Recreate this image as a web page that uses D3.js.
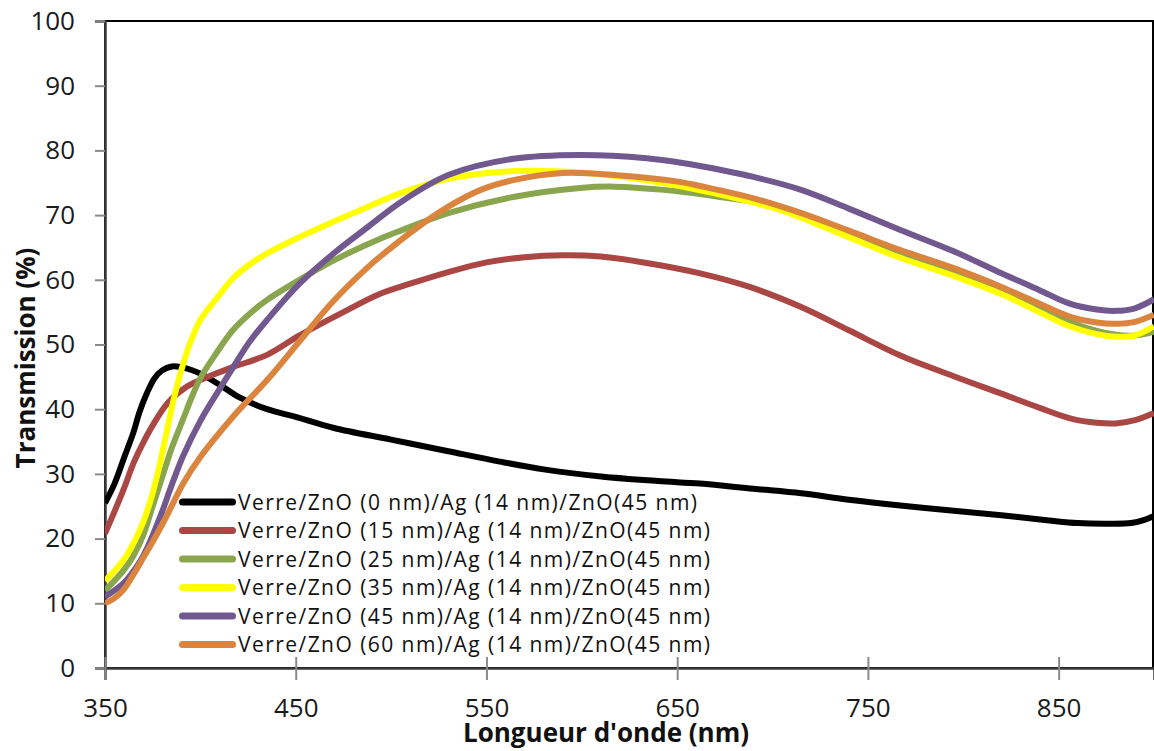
<!DOCTYPE html>
<html><head><meta charset="utf-8">
<script src="https://cdn.jsdelivr.net/npm/d3@7"></script>
<style>body{margin:0;background:#fff}svg{display:block}</style>
</head><body>
<svg id="c" width="1154" height="751"></svg>
<script>
const xTicks = [350, 450, 550, 650, 750, 850];
const yTicks = [0, 10, 20, 30, 40, 50, 60, 70, 80, 90, 100];
const seriesNames = [
  "Verre/ZnO (0 nm)/Ag (14 nm)/ZnO(45 nm)",
  "Verre/ZnO (15 nm)/Ag (14 nm)/ZnO(45 nm)",
  "Verre/ZnO (25 nm)/Ag (14 nm)/ZnO(45 nm)",
  "Verre/ZnO (35 nm)/Ag (14 nm)/ZnO(45 nm)",
  "Verre/ZnO (45 nm)/Ag (14 nm)/ZnO(45 nm)",
  "Verre/ZnO (60 nm)/Ag (14 nm)/ZnO(45 nm)"
];
const seriesColors = ["#000000", "#AA4643", "#89A54E", "#FFFF00", "#71588F", "#DB843D"];

const t0 = [[350,25.5],[355,28.5],[360,32.5],[365,36.5],[368,39.5],[372,42.5],[376,44.8],[380,46],[385,46.6],[390,46.5],[395,46.1],[400,45.5],[410,43.8],[420,41.9],[435,40],[450,38.8],[470,37.1],[500,35.3],[530,33.5],[557,31.9],[580,30.7],[610,29.6],[640,28.9],[662,28.5],[690,27.7],[715,27],[740,26],[767,25.1],[795,24.3],[820,23.6],[845,22.8],[860,22.4],[875,22.3],[888,22.4],[895,22.9],[900,23.5]];
const t15 = [[350,20.8],[355,24.2],[360,27.8],[365,31.7],[370,34.8],[375,37.5],[383,41],[393,43.5],[404,45],[417,46.5],[435,48.4],[452,51.4],[475,55],[494,57.8],[510,59.4],[530,61.2],[550,62.7],[570,63.5],[590,63.8],[610,63.6],[634,62.6],[662,61],[688,58.9],[715,55.8],[740,52.2],[767,48.3],[795,45.1],[820,42.4],[840,40.2],[857,38.5],[870,37.9],[880,37.8],[890,38.3],[900,39.4]];
const t25 = [[350,12],[355,13.5],[360,15.2],[365,17.4],[370,20.5],[375,25],[380,29.5],[385,34],[391,38.5],[395,41.5],[400,44.8],[408,48.5],[417,52.2],[426,54.8],[435,56.9],[452,60],[470,63],[494,66.3],[505,67.6],[530,70.3],[564,72.8],[599,74.2],[617,74.4],[643,73.9],[670,72.9],[704,71.3],[730,68.6],[767,64.1],[795,61.3],[820,58.5],[840,55.8],[855,53.6],[870,52.1],[880,51.5],[890,51.4],[900,52]];
const t35 = [[350,13.5],[355,15],[360,16.8],[365,19.3],[370,22.5],[374,26],[378,30.5],[382,36],[386,41.5],[391,47],[395,50.5],[400,53.8],[409,57.3],[417,60.2],[426,62.4],[435,64.1],[452,66.6],[470,69],[488,71.3],[505,73.4],[530,75.6],[564,76.8],[599,76.6],[634,75.4],[669,73.4],[704,70.8],[715,69.6],[740,66.6],[767,63.4],[795,60.6],[820,57.8],[840,55],[855,52.9],[870,51.6],[880,51.2],[890,51.4],[900,52.8]];
const t45 = [[350,11],[355,12],[360,13.2],[365,15],[370,17.3],[375,20.5],[380,24.2],[385,28.3],[391,32.8],[400,38.2],[409,42.6],[417,46.4],[426,50.5],[435,53.8],[452,59.4],[470,64.1],[488,68.2],[505,72],[530,76.2],[564,78.7],[599,79.3],[634,78.8],[652,78.1],[662,77.6],[690,75.9],[715,73.9],[740,71],[767,67.7],[795,64.4],[820,61],[840,58.4],[855,56.4],[870,55.4],[880,55.2],[890,55.6],[900,57]];
const t60 = [[350,10],[355,10.8],[360,12.2],[365,14.5],[370,17],[375,19.5],[382,23.3],[391,28.5],[400,32.6],[417,38.8],[435,44.5],[452,50.5],[470,56.8],[488,62],[496,64],[512,67.7],[530,71.3],[547,73.9],[564,75.4],[590,76.5],[617,76.2],[652,75.1],[662,74.5],[690,72.6],[715,70.3],[740,67.6],[767,64.6],[795,61.8],[820,58.9],[840,56.3],[855,54.4],[870,53.4],[880,53.2],[890,53.5],[900,54.6]];
const seriesData = [t0, t15, t25, t35, t45, t60];

const svg = d3.select("#c");
const x = d3.scaleLinear().domain([350, 900]).range([105, 1154]);
const y = d3.scaleLinear().domain([0, 100]).range([668, 21]);
const FONT = "'Open Sans', sans-serif";

svg.append("defs").append("clipPath").attr("id","clip")
  .append("rect").attr("x",x(350)).attr("y",y(100)-4).attr("width",x(900)-x(350)).attr("height",y(0)-y(100)+8);

// plot border
svg.append("rect").attr("x",x(350)).attr("y",y(100)).attr("width",x(900)-x(350)-1).attr("height",y(0)-y(100))
  .attr("fill","none").attr("stroke","#000").attr("stroke-width",2);

// Y axis
const yAxis = d3.axisLeft(y).tickValues(yTicks).tickSize(10).tickPadding(20).tickFormat(d3.format("d"));
const gy = svg.append("g").attr("transform",`translate(${x(350)},0)`).call(yAxis);
gy.select(".domain").attr("stroke","#3a3a3a").attr("stroke-width",2.5);
gy.selectAll(".tick line").attr("stroke","#8a8a8a").attr("stroke-width",2);
gy.selectAll(".tick text").attr("font-family",FONT).attr("font-size",26).attr("fill","#1a1a1a");

// X axis
const xAxis = d3.axisBottom(x).tickValues(xTicks).tickSize(12).tickPadding(19).tickFormat(d3.format("d"));
const gx = svg.append("g").attr("transform",`translate(0,${y(0)})`).call(xAxis);
gx.select(".domain").attr("stroke","#3a3a3a").attr("stroke-width",2.5);
gx.selectAll(".tick line").attr("stroke","#8a8a8a").attr("stroke-width",2).attr("y1",-11);
gx.selectAll(".tick text").attr("font-family",FONT).attr("font-size",26).attr("fill","#1a1a1a");

// lines
const line = d3.line().x(d=>x(d[0])).y(d=>y(d[1])).curve(d3.curveCatmullRom.alpha(0.5));
const gl = svg.append("g").attr("clip-path","url(#clip)");
seriesData.forEach((s,i)=>{
  gl.append("path").datum(s).attr("d",line).attr("fill","none")
    .attr("stroke",seriesColors[i]).attr("stroke-width",6).attr("stroke-linejoin","round").attr("stroke-linecap","butt");
});

// legend
const lg = svg.append("g");
seriesNames.forEach((n,i)=>{
  const cy = 502 + i*28.5;
  lg.append("line").attr("x1",182.5).attr("x2",232.5).attr("y1",cy).attr("y2",cy)
    .attr("stroke",seriesColors[i]).attr("stroke-width",7).attr("stroke-linecap","round");
  lg.append("text").attr("x",238).attr("y",cy+7.5).text(n)
    .attr("font-family",FONT).attr("font-size",21).attr("fill","#111")
    .attr("textLength", i===0 ? 459 : 472).attr("lengthAdjust","spacing");
});

// axis titles
svg.append("text").attr("x",606).attr("y",742).attr("text-anchor","middle")
  .attr("font-family",FONT).attr("font-weight","bold").attr("font-size",26).attr("fill","#111")
  .text("Longueur d'onde (nm)");
svg.append("text").attr("transform","translate(35,358) rotate(-90)").attr("text-anchor","middle")
  .attr("font-family",FONT).attr("font-weight","bold").attr("font-size",26).attr("fill","#111")
  .text("Transmission (%)");
</script>
</body></html>
